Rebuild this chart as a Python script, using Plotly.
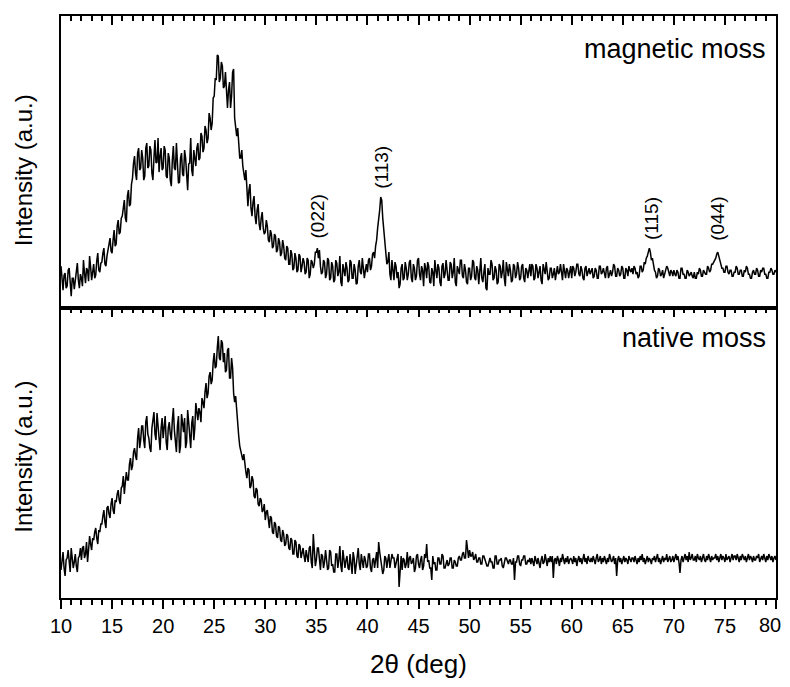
import numpy as np
import plotly.graph_objects as go

# 2-theta grid (deg), 0.1 deg step from 10 to 80
theta_start = 10.0
theta_step = 0.1
n_points = 701
two_theta = np.round(theta_start + theta_step * np.arange(n_points), 1)

# magnetic moss intensity (a.u.) (one row = 2 deg)
magnetic = [
    42, 25, 18, 33, 35, 20, 22, 38, 40, 26, 12, 30, 30, 19, 26, 36, 45, 28, 20, 34,
    30, 22, 48, 35, 25, 40, 38, 27, 52, 41, 28, 36, 44, 30, 33, 47, 55, 38, 36, 45,
    46, 55, 60, 44, 42, 52, 58, 66, 70, 57, 55, 68, 78, 62, 64, 82, 88, 74, 76, 90,
    92, 100, 108, 90, 86, 112, 118, 102, 104, 124, 130, 145, 152, 135, 128, 155, 160, 138, 140, 158,
    150, 128, 132, 160, 165, 140, 142, 162, 158, 135, 128, 150, 168, 145, 146, 170, 136, 152, 160, 138,
    140, 162, 158, 132, 130, 155, 150, 128, 122, 148, 162, 140, 138, 165, 148, 125, 126, 150, 155, 134,
    132, 158, 150, 126, 118, 144, 145, 170, 138, 132, 158, 150, 142, 160, 165, 148, 150, 175, 172, 156,
    160, 182, 178, 165, 170, 195, 190, 178, 185, 210, 212, 230, 228, 253, 252, 226, 230, 246, 242, 220,
    222, 236, 210, 200, 218, 226, 200, 212, 236, 239, 190, 176, 172, 180, 165, 150, 150, 158, 142, 135,
    128, 138, 110, 102, 118, 124, 100, 92, 106, 112, 92, 84, 98, 104, 84, 78, 90, 96, 80, 74,
    76, 88, 82, 68, 66, 78, 74, 60, 62, 74, 72, 56, 58, 70, 66, 52, 55, 68, 62, 50,
    48, 62, 60, 44, 44, 58, 54, 38, 40, 55, 50, 36, 38, 54, 52, 36, 42, 50, 46, 34,
    36, 50, 48, 30, 34, 48, 46, 40, 44, 56, 56, 60, 50, 58, 42, 34, 36, 48, 46, 30,
    34, 50, 48, 28, 30, 46, 42, 26, 28, 48, 45, 32, 36, 52, 26, 22, 44, 38, 32, 46,
    40, 26, 28, 48, 46, 30, 30, 44, 38, 24, 25, 42, 48, 36, 34, 50, 42, 30, 38, 44,
    36, 48, 50, 38, 42, 54, 56, 50, 62, 68, 80, 88, 98, 111, 108, 90, 78, 64, 55, 44,
    46, 56, 34, 28, 48, 40, 28, 46, 42, 30, 36, 20, 24, 40, 44, 28, 30, 46, 40, 28,
    34, 46, 48, 30, 26, 44, 40, 28, 32, 48, 50, 34, 28, 42, 38, 22, 45, 40, 30, 46,
    42, 26, 25, 40, 36, 22, 48, 38, 30, 44, 40, 26, 22, 42, 45, 30, 34, 48, 38, 28,
    28, 46, 44, 30, 36, 50, 26, 22, 42, 36, 34, 48, 48, 32, 30, 44, 38, 26, 24, 40,
    40, 28, 32, 48, 46, 30, 28, 42, 38, 24, 42, 50, 30, 26, 36, 44, 20, 18, 40, 34,
    34, 48, 44, 28, 30, 42, 38, 24, 26, 44, 42, 30, 36, 48, 30, 22, 46, 38, 32, 44,
    38, 26, 28, 44, 42, 30, 34, 46, 40, 28, 30, 42, 44, 30, 26, 40, 38, 30, 36, 44,
    32, 44, 42, 28, 30, 44, 40, 30, 36, 42, 28, 24, 44, 38, 34, 46, 38, 28, 30, 40,
    40, 30, 34, 40, 28, 36, 42, 34, 36, 44, 32, 28, 44, 38, 30, 40, 38, 30, 35, 42,
    30, 42, 40, 32, 36, 44, 44, 34, 32, 42, 38, 30, 28, 40, 42, 32, 36, 40, 34, 38,
    40, 30, 32, 40, 38, 30, 30, 42, 42, 34, 36, 40, 34, 30, 40, 42, 30, 34, 38, 32,
    36, 44, 42, 32, 32, 40, 38, 32, 34, 42, 40, 30, 30, 40, 38, 32, 42, 38, 36, 40,
    34, 42, 40, 34, 36, 30, 32, 42, 42, 36, 38, 46, 44, 50, 52, 56, 60, 56, 48, 50,
    42, 38, 36, 30, 32, 40, 38, 32, 34, 38, 30, 34, 36, 42, 40, 34, 32, 38, 36, 32,
    38, 34, 32, 38, 36, 30, 30, 40, 40, 34, 34, 30, 30, 38, 36, 32, 34, 36, 32, 30,
    36, 30, 30, 36, 34, 40, 38, 32, 32, 38, 36, 34, 34, 42, 40, 36, 38, 44, 44, 46,
    48, 50, 54, 56, 52, 46, 44, 40, 40, 36, 36, 42, 42, 36, 34, 38, 38, 32, 32, 36,
    36, 42, 40, 34, 34, 38, 38, 32, 32, 38, 36, 42, 40, 34, 34, 30, 30, 36, 38, 34,
    34, 40, 38, 32, 32, 38, 36, 40, 40, 34, 34, 30, 30, 36, 36, 40, 38, 34, 34, 38,
    36,
]

# native moss intensity (a.u.) (one row = 2 deg)
native = [
    28, 40, 46, 30, 22, 38, 40, 48, 34, 26, 50, 42, 30, 36, 44, 32, 26, 40, 42, 50,
    38, 50, 52, 40, 44, 56, 36, 48, 62, 54, 48, 60, 58, 66, 70, 60, 54, 68, 66, 74,
    74, 82, 88, 76, 70, 90, 92, 84, 80, 94, 100, 88, 84, 98, 96, 104, 108, 98, 94, 110,
    112, 122, 104, 116, 126, 118, 118, 134, 140, 128, 132, 146, 150, 142, 138, 160, 170, 150, 158, 172,
    172, 158, 150, 176, 182, 164, 160, 150, 146, 170, 178, 186, 164, 158, 185, 170, 152, 148, 170, 180,
    160, 176, 182, 156, 148, 170, 176, 164, 158, 178, 190, 168, 154, 146, 172, 182, 145, 152, 184, 170,
    166, 180, 150, 156, 188, 176, 162, 150, 175, 182, 158, 170, 195, 186, 178, 190, 186, 176, 200, 196,
    190, 206, 215, 200, 205, 222, 226, 214, 218, 236, 245, 230, 232, 250, 262, 240, 238, 258, 255, 236,
    245, 226, 228, 248, 250, 220, 220, 240, 230, 205, 196, 202, 185, 168, 162, 152, 148, 145, 138, 144,
    132, 126, 120, 130, 128, 110, 112, 122, 118, 102, 100, 110, 108, 94, 92, 100, 98, 86, 88, 94,
    78, 86, 88, 74, 70, 82, 80, 66, 64, 76, 74, 62, 60, 72, 70, 58, 56, 68, 64, 52,
    54, 64, 62, 50, 48, 60, 58, 44, 44, 58, 56, 42, 40, 54, 52, 40, 46, 50, 42, 36,
    48, 40, 36, 50, 52, 36, 30, 64, 44, 32, 38, 50, 50, 34, 28, 44, 42, 30, 36, 48,
    40, 28, 30, 48, 46, 32, 34, 26, 26, 44, 44, 30, 38, 52, 32, 26, 48, 40, 30, 38,
    42, 30, 28, 44, 36, 24, 46, 40, 24, 34, 40, 50, 34, 28, 44, 38, 30, 42, 38, 30,
    32, 44, 44, 30, 26, 38, 40, 30, 36, 46, 30, 56, 46, 38, 34, 24, 28, 42, 40, 30,
    38, 44, 30, 36, 44, 40, 40, 30, 36, 42, 44, 11, 30, 42, 28, 40, 38, 30, 34, 46,
    30, 40, 42, 34, 36, 40, 26, 30, 42, 44, 34, 30, 38, 42, 28, 32, 44, 40, 54, 36,
    38, 30, 30, 18, 42, 34, 36, 28, 28, 40, 40, 34, 34, 44, 42, 30, 30, 36, 38, 32,
    34, 40, 40, 30, 30, 38, 36, 32, 32, 40, 42, 38, 38, 44, 46, 40, 40, 58, 46, 40,
    48, 42, 42, 46, 38, 40, 44, 36, 36, 40, 40, 34, 34, 42, 42, 38, 36, 32, 32, 38,
    40, 36, 36, 30, 30, 42, 42, 34, 34, 38, 38, 40, 32, 30, 36, 40, 40, 36, 34, 38,
    38, 34, 34, 40, 18, 36, 36, 42, 42, 34, 32, 38, 38, 42, 42, 34, 34, 38, 36, 40,
    34, 40, 36, 32, 42, 38, 34, 40, 36, 30, 38, 42, 34, 36, 44, 38, 32, 40, 36, 42,
    36, 42, 20, 38, 40, 34, 42, 38, 32, 40, 36, 44, 38, 34, 40, 36, 42, 34, 38, 40,
    38, 34, 42, 36, 40, 32, 38, 42, 36, 40, 34, 38, 44, 36, 40, 34, 42, 38, 36, 40,
    36, 42, 38, 34, 40, 44, 36, 38, 42, 34, 40, 36, 42, 38, 34, 40, 36, 44, 38, 36,
    38, 42, 34, 40, 22, 38, 42, 36, 40, 34, 38, 42, 36, 40, 38, 34, 42, 38, 36, 40,
    40, 36, 42, 38, 34, 40, 36, 42, 38, 44, 36, 40, 34, 38, 42, 36, 40, 38, 34, 40,
    38, 42, 36, 40, 44, 36, 40, 34, 38, 42, 36, 40, 38, 44, 36, 40, 42, 36, 38, 42,
    36, 40, 44, 38, 42, 36, 25, 38, 42, 36, 40, 44, 38, 42, 36, 46, 38, 40, 44, 38,
    38, 42, 36, 44, 40, 38, 42, 36, 40, 44, 38, 36, 42, 38, 44, 40, 36, 42, 38, 40,
    40, 44, 38, 42, 36, 40, 44, 38, 42, 40, 36, 44, 38, 40, 42, 36, 40, 44, 38, 42,
    42, 38, 44, 40, 36, 42, 38, 44, 40, 38, 42, 36, 40, 44, 38, 42, 40, 36, 42, 38,
    38, 42, 40, 44, 36, 40, 42, 38, 44, 40, 36, 42, 38, 44, 40, 38, 42, 36, 40, 42,
    38,
]

assert len(magnetic) == n_points, len(magnetic)
assert len(native) == n_points, len(native)

# Peak labels (Miller indices) and their positions
peak_labels = ["(022)", "(113)", "(115)", "(044)"]
peak_label_x = [35.1, 41.3, 67.75, 74.2]
peak_label_y = [92, 141, 90, 89]

panel_names = ["magnetic moss", "native moss"]
x_ticks = list(range(10, 81, 5))
x_tick_labels = [str(v) for v in x_ticks]

FONT = "Liberation Sans, Arial, sans-serif"
BLACK = "#000000"
TICKFONT = dict(family=FONT, size=20, color=BLACK)

fig = go.Figure()
fig.add_trace(go.Scatter(x=two_theta, y=magnetic, mode="lines",
                         line=dict(color=BLACK, width=1.5),
                         xaxis="x", yaxis="y", showlegend=False, hoverinfo="skip"))
fig.add_trace(go.Scatter(x=two_theta, y=native, mode="lines",
                         line=dict(color=BLACK, width=1.5),
                         xaxis="x2", yaxis="y2", showlegend=False, hoverinfo="skip"))
# invisible carrier traces for the helper tick axes of the lower panel
for ax in ["x3", "x4"]:
    fig.add_trace(go.Scatter(x=two_theta, y=native, mode="lines",
                             line=dict(color="rgba(0,0,0,0)", width=0),
                             xaxis=ax, yaxis="y2", showlegend=False, hoverinfo="skip"))

common_x = dict(range=[10, 80], showgrid=False, zeroline=False, automargin=False,
                linecolor=BLACK, linewidth=2, tickcolor=BLACK, tickwidth=1.5, ticklen=9)
minor_in = dict(dtick=1, tick0=10, ticks="inside", ticklen=5, tickwidth=1.5, tickcolor=BLACK)
minor_out = dict(dtick=1, tick0=10, ticks="outside", ticklen=5, tickwidth=1.5, tickcolor=BLACK)

annotations = []
for lab, lx, ly in zip(peak_labels, peak_label_x, peak_label_y):
    annotations.append(dict(text=lab, x=lx, y=ly, xref="x", yref="y", showarrow=False,
                            textangle=-90, font=dict(family=FONT, size=19, color=BLACK),
                            xanchor="center", yanchor="middle"))
annotations.append(dict(text=panel_names[0], x=79.2, y=259, xref="x", yref="y",
                        showarrow=False, xanchor="right", yanchor="middle",
                        font=dict(family=FONT, size=27, color=BLACK)))
annotations.append(dict(text=panel_names[1], x=79.2, y=260, xref="x2", yref="y2",
                        showarrow=False, xanchor="right", yanchor="middle",
                        font=dict(family=FONT, size=27, color=BLACK)))
for yc in [0.734, 0.242]:
    annotations.append(dict(text="Intensity (a.u.)", x=-0.0524, y=yc, xref="paper", yref="paper",
                            showarrow=False, textangle=-90, xanchor="center", yanchor="middle",
                            font=dict(family=FONT, size=24, color=BLACK)))
annotations.append(dict(text="2\u03b8 (deg)", x=0.5, y=-0.113, xref="paper", yref="paper",
                        showarrow=False, xanchor="center", yanchor="middle",
                        font=dict(family=FONT, size=26, color=BLACK)))

# The page body keeps an 8 px default margin, so the figure is sized to fit
# inside the 790x687 window with the plot area at x 61..776, y 16..598.
fig.update_layout(
    width=774, height=671,
    margin=dict(l=53, r=6, t=8, b=81, autoexpand=False),
    paper_bgcolor="white", plot_bgcolor="white",
    font=dict(family=FONT, color=BLACK),
    # upper panel: inward ticks on its top edge, plain line below
    xaxis=dict(common_x, tickvals=x_ticks, domain=[0, 1], anchor="y", side="top",
               mirror=True, showline=True, ticks="inside", showticklabels=False,
               minor=minor_in),
    # lower panel: outward ticks with labels on the bottom edge
    xaxis2=dict(common_x, tickvals=x_ticks,
                ticktext=x_tick_labels[:-1] + [""],
                domain=[0, 1], anchor="y2", side="bottom", mirror=True, showline=True,
                ticks="outside", showticklabels=True, tickfont=TICKFONT, minor=minor_out),
    # lower panel: inward ticks on its top edge (the shared middle line)
    xaxis3=dict(common_x, tickvals=x_ticks, overlaying="x2", anchor="y2", side="top",
                showline=False, ticks="inside", showticklabels=False, minor=minor_in),
    # last label, nudged left so it stays inside the page
    xaxis4=dict(common_x, tickvals=x_ticks[-1:], ticktext=x_tick_labels[-1:],
                overlaying="x2", anchor="y2", side="bottom", showline=False,
                ticks="outside", showticklabels=True, tickfont=TICKFONT,
                ticklabelshift=-6, ticklabeloverflow="allow"),
    yaxis=dict(domain=[0.498, 1], range=[0, 292], showline=True, mirror=True, linecolor=BLACK,
               linewidth=2, ticks="", showticklabels=False, showgrid=False, zeroline=False,
               automargin=False),
    yaxis2=dict(domain=[0, 0.498], range=[0, 290], showline=True, mirror=True, linecolor=BLACK,
                linewidth=2, ticks="", showticklabels=False, showgrid=False, zeroline=False,
                automargin=False),
    annotations=annotations,
)

fig.write_html("out.html")
